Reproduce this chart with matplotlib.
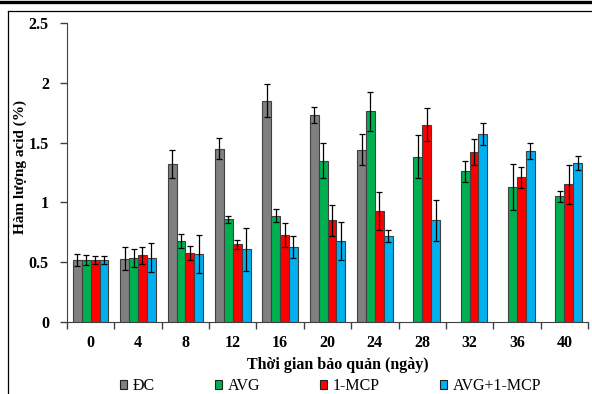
import numpy as np
import matplotlib
matplotlib.use("Agg")
import matplotlib.pyplot as plt
from matplotlib.lines import Line2D
from matplotlib.patches import Patch

days = ["0", "4", "8", "12", "16", "20", "24", "28", "32", "36", "40"]
series_names = ["ĐC", "AVG", "1-MCP", "AVG+1-MCP"]
dc = [0.52, 0.53, 1.32, 1.45, 1.85, 1.73, 1.44, np.nan, np.nan, np.nan, np.nan]
avg = [0.52, 0.54, 0.68, 0.86, 0.89, 1.35, 1.76, 1.38, 1.26, 1.13, 1.05]
mcp = [0.52, 0.56, 0.58, 0.65, 0.73, 0.85, 0.93, 1.65, 1.42, 1.21, 1.15]
avg_mcp = [0.52, 0.54, 0.57, 0.61, 0.63, 0.68, 0.72, 0.85, 1.57, 1.43, 1.33]
dc_err = [0.05, 0.095, 0.115, 0.09, 0.14, 0.07, 0.13, np.nan, np.nan, np.nan, np.nan]
avg_err = [0.04, 0.075, 0.06, 0.03, 0.055, 0.15, 0.16, 0.18, 0.09, 0.195, 0.045]
mcp_err = [0.03, 0.07, 0.058, 0.04, 0.10, 0.13, 0.16, 0.14, 0.11, 0.09, 0.16]
avg_mcp_err = [0.03, 0.12, 0.155, 0.18, 0.09, 0.16, 0.05, 0.17, 0.09, 0.07, 0.06]
y_ticks = [0, 0.5, 1, 1.5, 2, 2.5]
y_tick_labels = ["0", "0.5", "1", "1.5", "2", "2.5"]

values = [dc, avg, mcp, avg_mcp]
errors = [dc_err, avg_err, mcp_err, avg_mcp_err]
colors = ["#808080", "#00B050", "#FF0000", "#00B0F0"]

plt.rcParams['font.family'] = ['Liberation Serif', 'DejaVu Serif']

fig = plt.figure(figsize=(5.92, 3.94), dpi=100)
W, H = 592, 394
ax = fig.add_axes([67 / W, (H - 322.3) / H, (588 - 67) / W, (322.3 - 22.7) / H])

x = np.arange(len(days))
w = 0.1875
for i, (vals, errs, c) in enumerate(zip(values, errors, colors)):
    v = np.array(vals, dtype=float)
    e = np.array(errs, dtype=float)
    pos = x + (i - 1.5) * w
    m = ~np.isnan(v)
    ax.bar(pos[m], v[m], width=w, color=c, edgecolor="#404040", linewidth=0.8, zorder=2)
    ax.errorbar(pos[m], v[m], yerr=e[m], fmt="none", ecolor="black",
                elinewidth=0.9, capsize=2.0, capthick=0.9, zorder=3)

ax.set_xlim(-0.5, len(days) - 0.5)
ax.set_ylim(0, 2.5)
ax.set_yticks(y_ticks)
ax.set_yticklabels(y_tick_labels, fontsize=11.5, fontweight="bold")
ax.set_xticks(x)
ax.set_xticklabels(days, fontsize=11.5, fontweight="bold")
ax.tick_params(axis="x", which="major", length=0, pad=9)
ax.set_xticks(np.arange(-0.5, len(days), 1), minor=True)
ax.tick_params(axis="x", which="minor", length=5, width=1, direction="out")
ax.tick_params(axis="y", length=5, width=1, direction="out", pad=8)
for s in ["top", "right"]:
    ax.spines[s].set_visible(False)
ax.spines["left"].set_color("#404040")
ax.spines["bottom"].set_color("#404040")
ax.tick_params(colors="#404040", labelcolor="black", which="both")

fig.text(338 / W, 1 - 365 / H, "Thời gian bảo quản (ngày)", ha="center", va="center",
         fontsize=11.5, fontweight="bold")
fig.text(20 / W, 1 - 167 / H, "Hàm lượng acid (%)", ha="center", va="center",
         rotation=90, fontsize=11, fontweight="bold")

handles = [Patch(facecolor=c, edgecolor="#202020", linewidth=0.8) for c in colors]
fig.legend(handles, series_names, loc="center left", bbox_to_anchor=(120 / W, 1 - 386 / H),
           ncol=4, frameon=False, fontsize=11.5, handlelength=0.45, handleheight=0.45,
           handletextpad=0.35, columnspacing=3.75, borderpad=0, borderaxespad=0)

fig.add_artist(Line2D([0, 1], [1 - 1.5 / H, 1 - 1.5 / H], color="black", linewidth=2.4,
                      transform=fig.transFigure))
fig.add_artist(Line2D([8 / W, 1], [1 - 10.5 / H, 1 - 10.5 / H], color="black", linewidth=0.9,
                      transform=fig.transFigure))
fig.add_artist(Line2D([8 / W, 8 / W], [0, 1 - 10.5 / H], color="black", linewidth=0.9,
                      transform=fig.transFigure))

fig.savefig("out.png", dpi=100)
